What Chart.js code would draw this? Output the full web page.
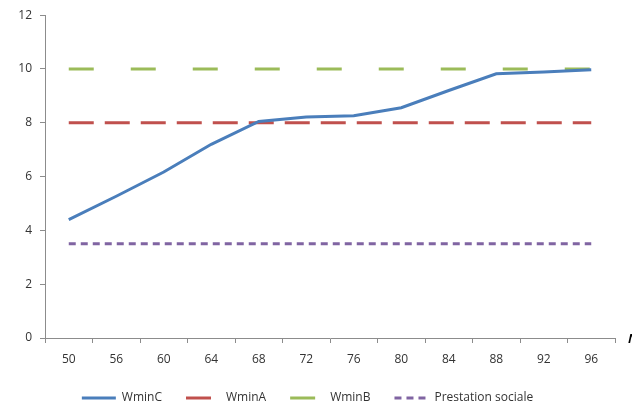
<!DOCTYPE html>
<html>
<head>
<meta charset="utf-8">
<script src="https://cdn.jsdelivr.net/npm/chart.js@4"></script>
<style>
  body { margin: 0; background: #fff; }
  #wrap { width: 632px; height: 410px; }
</style>
</head>
<body>
<div id="wrap"><canvas id="myChart" width="632" height="410"></canvas></div>
<script>
// categories (x axis)
const ages = ["50", "56", "60", "64", "68", "72", "76", "80", "84", "88", "92", "96"]
// series
const wminC = [4.4, 5.27, 6.17, 7.2, 8.05, 8.22, 8.26, 8.56, 9.2, 9.82, 9.89, 9.97]
const wminA = [8, 8, 8, 8, 8, 8, 8, 8, 8, 8, 8, 8]
const wminB = [10, 10, 10, 10, 10, 10, 10, 10, 10, 10, 10, 10]
const prestation = [3.5, 3.5, 3.5, 3.5, 3.5, 3.5, 3.5, 3.5, 3.5, 3.5, 3.5, 3.5]
const yMax = 12
const yStep = 2
const axisLetter = "N"

const graf = document.getElementById("myChart").getContext("2d")

// the clipped bold italic axis title at the right edge
const bordTexte = {
    id: "bordTexte",
    afterDraw(chart) {
        const ctx = chart.ctx
        const x = chart.scales.x
        ctx.save()
        ctx.font = "italic bold 13px 'Open Sans'"
        ctx.fillStyle = "#000"
        ctx.textBaseline = "alphabetic"
        ctx.fillText(axisLetter, x.right + 13, x.top + 5)
        ctx.restore()
    }
}

function serie(label, data, color, dash) {
    return {
        label: label,
        data: data,
        borderColor: color,
        backgroundColor: color,
        borderWidth: 3,
        borderDash: dash,
        pointRadius: 0,
        pointHoverRadius: 0,
        tension: 0,
        fill: false
    }
}

const myChart = new Chart(graf, {
    type: "line",
    data: {
        labels: ages,
        datasets: [
            serie("WminC", wminC, "#4a7ebb", []),
            serie("WminA", wminA, "#c0504d", [25, 11]),
            serie("WminB", wminB, "#9bbb59", [25, 37]),
            serie("Prestation sociale", prestation, "#8064a2", [7, 5])
        ]
    },
    options: {
        responsive: false,
        animation: false,
        layout: { padding: { top: 0, right: 17, bottom: -4, left: 0 } },
        plugins: {
            tooltip: { enabled: false },
            legend: {
                position: "bottom",
                labels: {
                    usePointStyle: true,
                    pointStyle: "line",
                    pointStyleWidth: 34,
                    padding: 24,
                    color: "#333",
                    font: { family: "'Open Sans'", size: 12 },
                    generateLabels(chart) {
                        const items = Chart.defaults.plugins.legend.labels.generateLabels(chart)
                        items.forEach((it, i) => {
                            it.lineDash = chart.data.datasets[i].borderDash
                            it.lineWidth = 3
                        })
                        return items
                    }
                }
            }
        },
        scales: {
            x: {
                offset: true,
                grid: { offset: true, drawOnChartArea: false, drawTicks: true, tickLength: 5, color: "#8c8c8c" },
                border: { color: "#8c8c8c" },
                ticks: { color: "#333", font: { family: "'Open Sans'", size: 12 }, maxRotation: 0, padding: 9 },
                afterFit(s) { s.height = 30 }
            },
            y: {
                min: 0,
                max: yMax,
                ticks: { stepSize: yStep, color: "#333", font: { family: "'Open Sans'", size: 12 }, padding: 8 },
                grid: { drawOnChartArea: false, drawTicks: true, tickLength: 5, color: "#8c8c8c" },
                border: { color: "#8c8c8c" },
                afterFit(s) { s.width = 45 }
            }
        }
    },
    plugins: [bordTexte]
})
</script>
</body>
</html>
